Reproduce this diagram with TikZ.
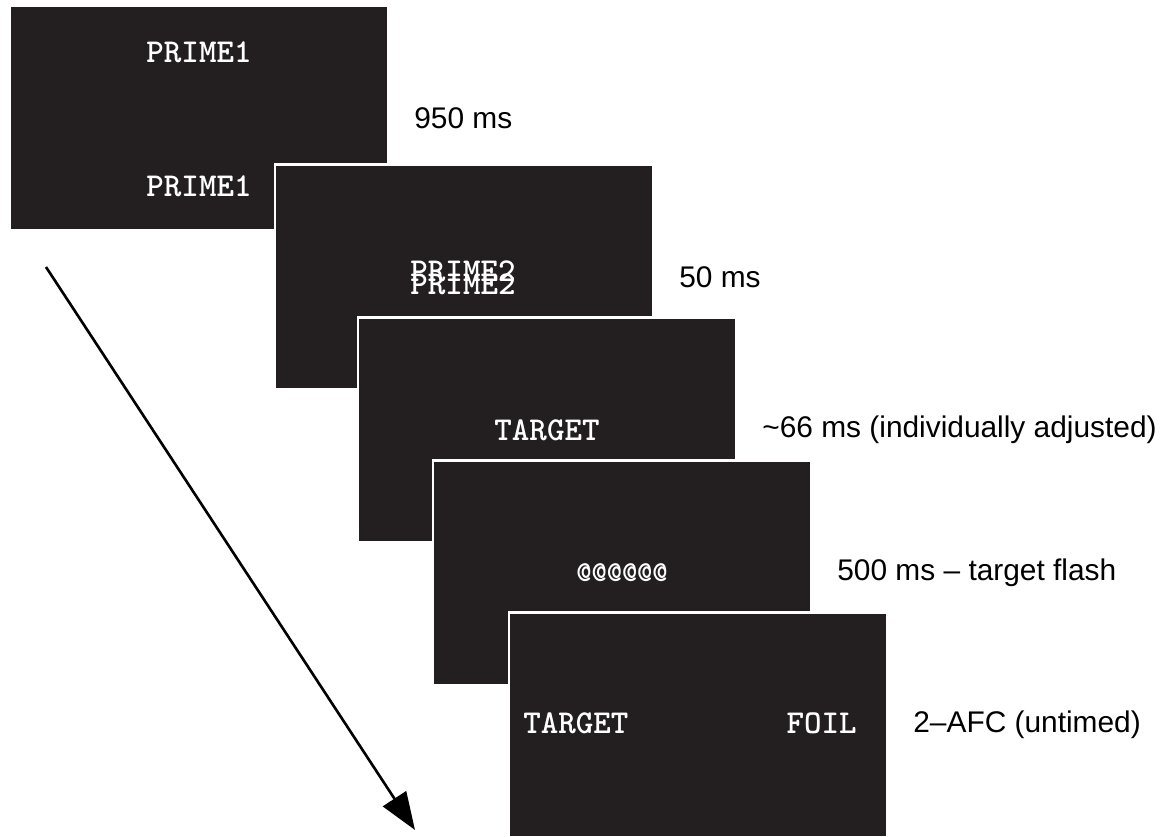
\documentclass[tikz,border=0pt]{standalone}
\usepackage{fontspec}
\setmainfont{Liberation Sans}
\usetikzlibrary{positioning,arrows.meta}
\definecolor{screenblack}{HTML}{231F20}

\begin{document}
\begin{tikzpicture}
    [x=0.02cm,y=-0.02cm,
    screen/.style={draw=white,line width=1.2pt,fill=screenblack,
      minimum width=7.56cm,minimum height=4.5cm,inner sep=0pt},
    word/.style={text=white,inner sep=0pt,
      font=\ttfamily\bfseries\fontsize{19}{19}\selectfont},
    timing/.style={inner sep=0pt,right=0.5cm of #1,
      font=\fontsize{17}{17}\selectfont}]
    \useasboundingbox (0,0) rectangle (1165,837);
    % the five screens, later ones on top
    \node[screen] (s1) at (199,118) {};
    \node[word] (p1a) at (199,52) {PRIME1};
    \node[word] (p1b) at (199,186) {PRIME1};
    \node[screen] (s2) at (464,277) {};
    \node[word] (p2a) at (463,271) {PRIME2};
    \node[word] (p2b) at (463,284) {PRIME2};
    \node[screen] (s3) at (547,430) {};
    \node[word] (t3) at (s3) {TARGET};
    \node[screen] (s4) at (622,573) {};
    \node[word,font=\ttfamily\bfseries\fontsize{16.5}{16.5}\selectfont] (m4) at (s4) {@@@@@@};
    \node[screen] (s5) at (698,725) {};
    \node[word,anchor=west] (t5) at (523,723) {TARGET};
    \node[word,anchor=east] (f5) at (857,723) {FOIL};
    % durations
    \node[timing=s1] (d1) {950 ms};
    \node[timing=s2] (d2) {50 ms};
    \node[timing=s3] (d3) {\textasciitilde 66 ms (individually adjusted)};
    \node[timing=s4] (d4) {500 ms -- target flash};
    \node[timing=s5] (d5) {2--AFC (untimed)};
    % time axis
    \coordinate (tstart) at (46,267);
    \coordinate (tend) at (415,830);
    \draw[line width=1.5pt,-{Triangle[length=0.75cm,width=0.55cm]}] (tstart) -- (tend);
\end{tikzpicture}
\end{document}
